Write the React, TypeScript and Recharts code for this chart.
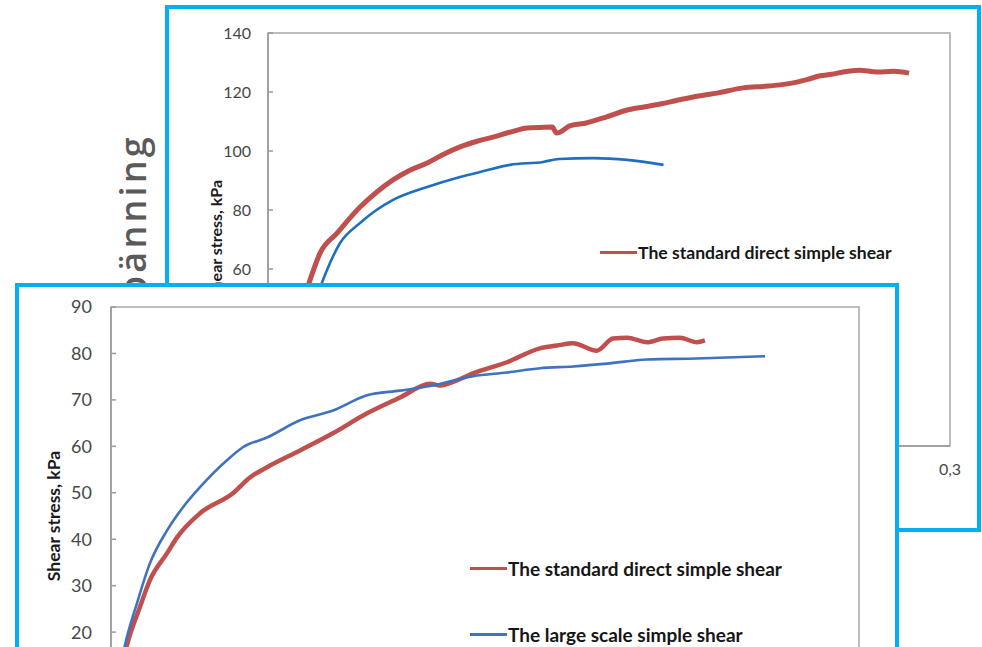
import React from 'react';
import { LineChart, Line, XAxis, YAxis, ReferenceArea, Legend } from 'recharts';

// ---------- data (strain, shear stress kPa) ----------
// Upper chart
const upperStdStrain = [0.014, 0.0185, 0.0229, 0.0304, 0.0405, 0.048, 0.055, 0.062, 0.07, 0.0775, 0.0845, 0.092, 0.099, 0.107, 0.114, 0.12, 0.125, 0.127, 0.133, 0.14, 0.149, 0.158, 0.166, 0.173, 0.18, 0.187, 0.198, 0.209, 0.22, 0.231, 0.237, 0.243, 0.248, 0.253, 0.26, 0.268, 0.275, 0.282];
const upperStdStress = [45, 56.3, 65.4, 72.2, 81.0, 86.2, 90.2, 93.3, 95.9, 99.0, 101.4, 103.3, 104.7, 106.5, 107.8, 108.0, 108.1, 106.1, 108.6, 109.5, 111.6, 113.9, 115.0, 116.0, 117.2, 118.3, 119.7, 121.4, 122.0, 123.1, 124.2, 125.5, 126.0, 126.8, 127.4, 126.8, 127.0, 126.4];
const upperLargeStrain = [0.019, 0.0242, 0.0317, 0.0405, 0.055, 0.07, 0.0845, 0.0933, 0.1065, 0.121, 0.128, 0.143, 0.158, 0.174];
const upperLargeStress = [45, 56.3, 68.8, 75.6, 83.4, 87.8, 91.2, 92.9, 95.3, 96.3, 97.3, 97.6, 97.0, 95.3];

// Lower chart
const lowerStdStrain = [0.0045, 0.0064, 0.0116, 0.0156, 0.0225, 0.0265, 0.0357, 0.0489, 0.0557, 0.0626, 0.0758, 0.089, 0.1027, 0.1159, 0.128, 0.132, 0.1388, 0.1452, 0.1588, 0.172, 0.1789, 0.1853, 0.1949, 0.2013, 0.207, 0.215, 0.2214, 0.2282, 0.235, 0.2382];
const lowerStdStress = [13, 17.2, 25.4, 31.2, 37.0, 40.4, 45.6, 49.9, 53.3, 55.5, 59.1, 62.8, 67.1, 70.5, 73.5, 73.1, 74.2, 75.7, 78.1, 81.1, 81.7, 82.2, 80.6, 83.2, 83.4, 82.4, 83.2, 83.4, 82.4, 82.8];
const lowerLargeStrain = [0.004, 0.0056, 0.0104, 0.0156, 0.0225, 0.0289, 0.0357, 0.0465, 0.0529, 0.0626, 0.0758, 0.089, 0.1027, 0.1159, 0.1291, 0.1452, 0.1588, 0.172, 0.1853, 0.1989, 0.215, 0.235, 0.2623];
const lowerLargeStress = [13, 17.2, 26.2, 34.8, 41.9, 46.9, 51.2, 57.0, 59.8, 61.9, 65.6, 67.7, 71.0, 72.0, 73.1, 75.1, 75.9, 76.8, 77.2, 77.8, 78.7, 78.9, 79.4];

const upperYTicks = [0, 20, 40, 60, 80, 100, 120, 140];
const lowerYTicks = [0, 10, 20, 30, 40, 50, 60, 70, 80, 90];
const xTicks = [0, 0.05, 0.1, 0.15, 0.2, 0.25, 0.3];

const seriesStd = 'The standard direct simple shear';
const seriesLarge = 'The large scale simple shear';
const yLabel = 'Shear stress, kPa';
const sideTitle = 'Skjuvspänning';

const pts = (xs: number[], ys: number[]) => xs.map((x, i) => ({ strain: x, stress: ys[i] }));

const CYAN = '#00b0f0';
const RED = '#c0504d';
const BLUE_UP = '#1f6fc1';
const BLUE_LOW = '#3f72bf';
const AXIS = '#9a9a9a';
const TICK = '#474747';
const FONT = 'Lato, "Open Sans", sans-serif';

const fmtX = (v: number) => String(v).replace('.', ',');

const LegendBox = ({ items, fontSize, gap }: { items: { label: string; color: string }[]; fontSize: number; gap: number }) => (
  <div style={{ display: 'flex', flexDirection: 'column', rowGap: gap }}>
    {items.map((it) => (
      <div key={it.label} style={{ display: 'flex', alignItems: 'center', height: fontSize + 4 }}>
        <span style={{ display: 'inline-block', width: 37, height: 3, background: it.color, marginRight: 1 }} />
        <span style={{ fontFamily: FONT, fontWeight: 700, fontSize, color: '#161616', lineHeight: 1, whiteSpace: 'nowrap' }}>{it.label}</span>
      </div>
    ))}
  </div>
);

const makeYLabel = (cx: number, fontSize: number) => (props: any) => {
  const vb = props.viewBox || { x: 0, y: 0, width: 0, height: 0 };
  const x = vb.x + cx;
  const y = vb.y + vb.height / 2;
  return (
    <text x={x} y={y} transform={`rotate(-90 ${x} ${y})`} textAnchor="middle" dominantBaseline="central" fontFamily={FONT} fontWeight={700} fontSize={fontSize} fill="#1a1a1a">
      {yLabel}
    </text>
  );
};

export default function App() {
  const upperStd = pts(upperStdStrain, upperStdStress);
  const upperLarge = pts(upperLargeStrain, upperLargeStress);
  const lowerStd = pts(lowerStdStrain, lowerStdStress);
  const lowerLarge = pts(lowerLargeStrain, lowerLargeStress);

  return (
    <div style={{ position: 'fixed', left: 0, top: 0, width: 982, height: 647, overflow: 'hidden', background: '#fff' }}>
      {/* background slide title, mostly hidden */}
      <svg width={165} height={290} style={{ position: 'absolute', left: 0, top: 0 }}>
        <text x={146} y={134} transform="rotate(-90 146 134)" textAnchor="end" fontFamily='"Open Sans", sans-serif' fontWeight={600} fontSize={36} letterSpacing={3.2} fill="#5a5a5a">
          {sideTitle}
        </text>
      </svg>

      {/* upper panel */}
      <div style={{ position: 'absolute', left: 165, top: 5, width: 808, height: 519, border: `4px solid ${CYAN}`, background: '#fff' }}>
        <div style={{ position: 'absolute', left: 0, top: 0 }}>
          <LineChart width={808} height={519} margin={{ top: 24, right: 27, bottom: 0, left: 0 }}>
            <XAxis dataKey="strain" type="number" domain={[0, 0.3]} ticks={xTicks} tickFormatter={fmtX} allowDataOverflow
              height={82} tickSize={0} tickMargin={18} stroke={AXIS} strokeWidth={1.5}
              tick={{ fill: TICK, fontSize: 16, fontFamily: FONT }} />
            <YAxis type="number" domain={[0, 140]} ticks={upperYTicks} width={99} tickSize={-5} tickMargin={22}
              stroke={AXIS} strokeWidth={1.5} tick={{ fill: TICK, fontSize: 16, fontFamily: FONT }}
              label={{ content: makeYLabel(46, 16) } as any} />
            <ReferenceArea x1={0} x2={0.3} y1={0} y2={140} fill="none" stroke="#a8a8a8" strokeWidth={1.5} ifOverflow="visible" />
            <Line data={upperStd} dataKey="stress" name={seriesStd} type="monotoneX" dot={false} stroke={RED} strokeWidth={5} isAnimationActive={false} />
            <Line data={upperLarge} dataKey="stress" name={seriesLarge} type="monotoneX" dot={false} stroke={BLUE_UP} strokeWidth={2.6} isAnimationActive={false} />
            <Legend layout="vertical" align="center" verticalAlign="middle"
              wrapperStyle={{ left: 431, top: 233, width: 360, height: 24 }}
              content={() => <LegendBox items={[{ label: seriesStd, color: RED }]} fontSize={17.6} gap={0} />} />
          </LineChart>
        </div>
      </div>

      {/* lower panel */}
      <div style={{ position: 'absolute', left: 15, top: 283, width: 876, height: 500, border: `4px solid ${CYAN}`, background: '#fff' }}>
        <div style={{ position: 'absolute', left: 0, top: 0 }}>
          <LineChart width={876} height={478} margin={{ top: 20, right: 36, bottom: 0, left: 0 }}>
            <XAxis dataKey="strain" type="number" domain={[0, 0.3]} ticks={xTicks} tickFormatter={fmtX} allowDataOverflow
              height={40} tickSize={0} tickMargin={18} stroke={AXIS} strokeWidth={1.5}
              tick={{ fill: TICK, fontSize: 18, fontFamily: FONT }} />
            <YAxis type="number" domain={[0, 90]} ticks={lowerYTicks} width={92} tickSize={-5} tickMargin={24}
              stroke={AXIS} strokeWidth={1.5} tick={{ fill: TICK, fontSize: 18, fontFamily: FONT }}
              label={{ content: makeYLabel(34, 17.5) } as any} />
            <ReferenceArea x1={0} x2={0.3} y1={0} y2={90} fill="none" stroke="#a8a8a8" strokeWidth={1.5} ifOverflow="visible" />
            <Line data={lowerStd} dataKey="stress" name={seriesStd} type="monotoneX" dot={false} stroke={RED} strokeWidth={4.5} isAnimationActive={false} />
            <Line data={lowerLarge} dataKey="stress" name={seriesLarge} type="monotoneX" dot={false} stroke={BLUE_LOW} strokeWidth={2.6} isAnimationActive={false} />
            <Legend layout="vertical" align="center" verticalAlign="middle"
              wrapperStyle={{ left: 451, top: 270, width: 380, height: 100 }}
              content={() => (
                <LegendBox items={[{ label: seriesStd, color: RED }, { label: seriesLarge, color: BLUE_LOW }]} fontSize={19} gap={43} />
              )} />
          </LineChart>
        </div>
      </div>
    </div>
  );
}
